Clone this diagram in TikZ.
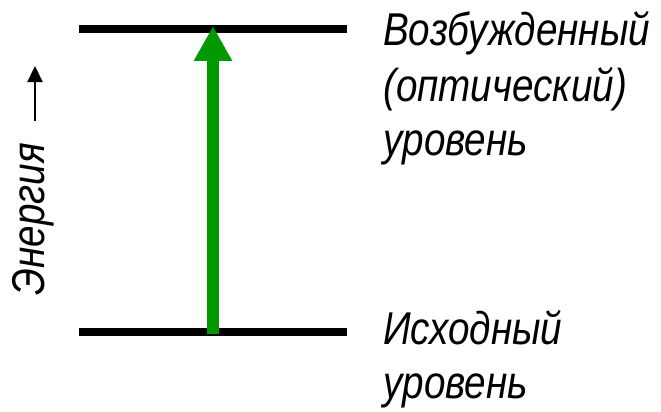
\documentclass[tikz,border=0pt]{standalone}
\usepackage{fontspec}
\usetikzlibrary{arrows.meta}
\newfontfamily\labelfont[FakeStretch=0.84]{Liberation Sans}
\definecolor{transgreen}{RGB}{0,153,0}
\tikzset{
  level/.style={line width=8pt, black},
  lbltext/.style={inner sep=0pt, font=\labelfont\itshape\fontsize{46}{54}\selectfont},
  lbl/.style={lbltext, anchor=base west},
  transition/.style={line width=12pt, transgreen, -{Triangle[length=35pt,width=36pt]}},
  axisarrow/.style={line width=2.2pt, -{Triangle[length=16pt,width=15pt]}}
}
\begin{document}
\begin{tikzpicture}[x=1pt,y=-1pt]
  \useasboundingbox (0,0) rectangle (661,412);
  % energy levels
  \coordinate (upL) at (79,29);
  \coordinate (upR) at (347,29);
  \coordinate (loL) at (79,332);
  \coordinate (loR) at (347,332);
  \draw[level] (upL) -- (upR);
  \draw[level] (loL) -- (loR);
  % excitation arrow
  \coordinate (exFrom) at (213,334);
  \coordinate (exTo) at (213,26);
  \draw[transition] (exFrom) -- (exTo);
  % energy axis
  \coordinate (eFrom) at (35,121);
  \coordinate (eTo) at (35,66);
  \draw[axisarrow] (eFrom) -- (eTo);
  \node[lbltext, anchor=base, rotate=90] (energy) at (44,219) {Энергия};
  % level labels
  \node[lbl] (up1) at (383,46) {Возбужденный};
  \node[lbl] (up2) at (383,101) {(оптический)};
  \node[lbl] (up3) at (383,155) {уровень};
  \node[lbl] (lo1) at (383,344) {Исходный};
  \node[lbl] (lo2) at (383,398) {уровень};
\end{tikzpicture}
\end{document}
